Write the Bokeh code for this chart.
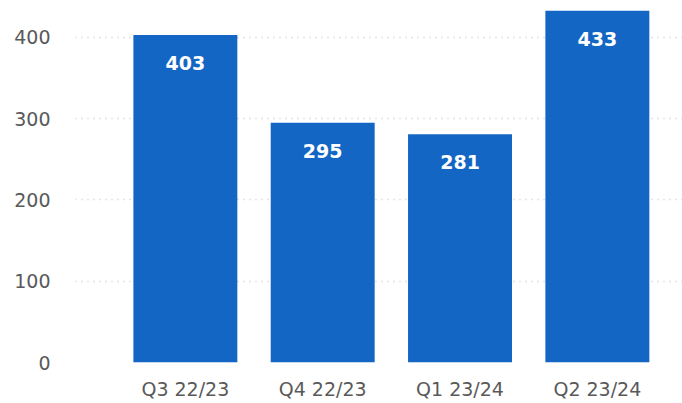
from bokeh.plotting import figure
from bokeh.models import ColumnDataSource, Range1d, FixedTicker, LabelSet
from bokeh.core.properties import value
from bokeh.embed import file_html
from bokeh.resources import INLINE

# Quarterly totals
quarters = ["Q3 22/23", "Q4 22/23", "Q1 23/24", "Q2 23/24"]
totals = [403, 295, 281, 433]
y_ticks = [0, 100, 200, 300, 400]

pos = list(range(len(quarters)))
src = ColumnDataSource(dict(x=pos, top=totals, label=[str(v) for v in totals]))

p = figure(width=682, height=403, output_backend="svg", toolbar_location=None,
           x_range=Range1d(-0.80, 3.62), y_range=Range1d(0, 445.5),
           min_border_left=75, min_border_right=0, min_border_top=0,
           min_border_bottom=41)
p.outline_line_color = None
p.background_fill_color = "white"
p.border_fill_color = "white"

p.vbar(x="x", top="top", bottom=0, width=0.757, source=src,
       fill_color="#1366c4", line_color=None)

labels = LabelSet(x="x", y="top", text="label", source=src,
                  text_align="center", text_baseline="middle", y_offset=-28,
                  text_color="white", text_font=value("DejaVu Sans"),
                  text_font_style="bold", text_font_size=value("19px"))
p.add_layout(labels)

# x axis: category names under each bar
p.xaxis.ticker = FixedTicker(ticks=pos)
p.xaxis.major_label_overrides = {i: q for i, q in enumerate(quarters)}
p.xaxis.axis_line_color = None
p.xaxis.major_tick_line_color = None
p.xaxis.minor_tick_line_color = None
p.xaxis.major_label_standoff = 9
p.xaxis.major_label_text_font = "DejaVu Sans"
p.xaxis.major_label_text_font_size = "19px"
p.xaxis.major_label_text_color = "#595959"
p.xgrid.grid_line_color = None

# y axis: value ticks with dotted guide lines
p.yaxis.ticker = FixedTicker(ticks=y_ticks)
p.yaxis.axis_line_color = None
p.yaxis.major_tick_line_color = None
p.yaxis.minor_tick_line_color = None
p.yaxis.major_label_standoff = 19
p.yaxis.major_label_text_font = "DejaVu Sans"
p.yaxis.major_label_text_font_size = "19px"
p.yaxis.major_label_text_color = "#595959"
p.ygrid.grid_line_color = "#c8c8c8"
p.ygrid.grid_line_dash = "1 5"
p.ygrid.grid_line_width = 1.5

open("out.html", "w").write(file_html(p, INLINE))
